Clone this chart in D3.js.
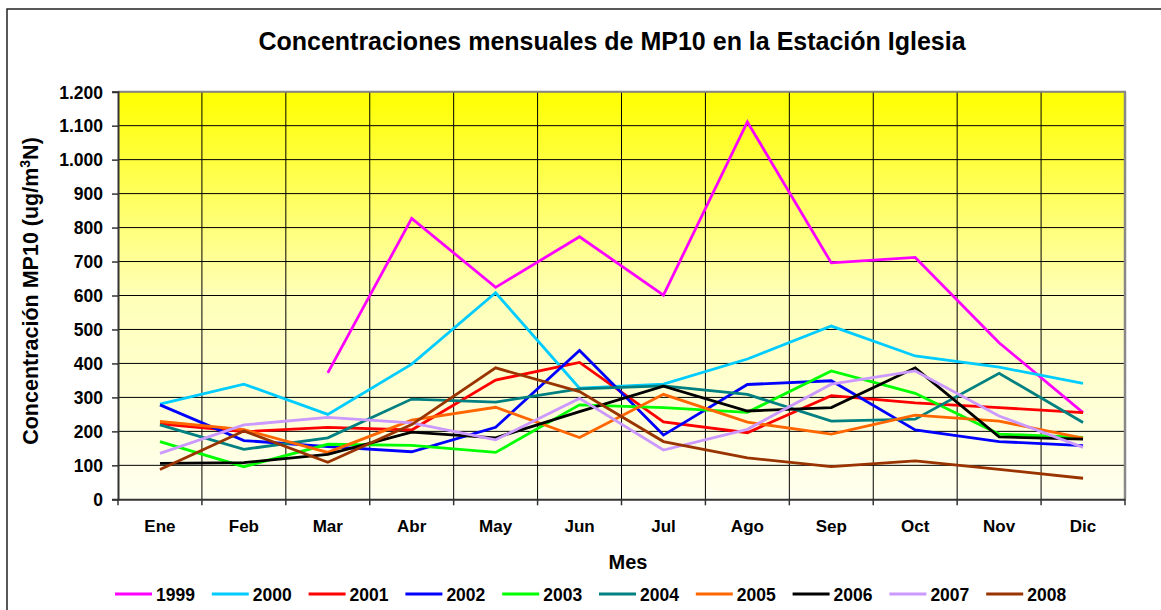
<!DOCTYPE html>
<html><head><meta charset="utf-8">
<script src="https://cdn.jsdelivr.net/npm/d3@7"></script>
<style>
html,body{margin:0;padding:0;background:#fff;}
text{font-family:Arial,"Liberation Sans",sans-serif;font-weight:bold;fill:#000;}
</style></head>
<body><svg id="c" width="1161" height="610"></svg>
<script>
const months = ["Ene","Feb","Mar","Abr","May","Jun","Jul","Ago","Sep","Oct","Nov","Dic"];
const yTicks = [0,100,200,300,400,500,600,700,800,900,1000,1100,1200];
const years = ["1999","2000","2001","2002","2003","2004","2005","2006","2007","2008"];
const colors = ["#FF00FF","#00CCFF","#FF0000","#0000FF","#00FF00","#008080","#FF6600","#000000","#CC99FF","#993300"];
const v1999 = [null,null,372,827,624,773,601,1111,696,712,461,255];
const v2000 = [280,339,250,398,608,327,339,413,510,422,389,341];
const v2001 = [222,199,212,204,351,403,228,196,305,284,270,255];
const v2002 = [278,173,155,140,212,438,189,338,349,204,170,158];
const v2003 = [170,96,162,159,138,278,270,256,378,312,192,182];
const v2004 = [219,147,181,295,286,325,334,309,230,236,371,226];
const v2005 = [229,205,138,233,271,182,309,227,192,248,230,180];
const v2006 = [106,108,132,198,181,258,333,260,270,387,184,177];
const v2007 = [135,219,241,225,175,297,145,206,339,378,245,153];
const v2008 = [88,201,109,220,387,317,170,122,96,113,88,62];
const series = [v1999,v2000,v2001,v2002,v2003,v2004,v2005,v2006,v2007,v2008];

const svg = d3.select("#c");
const L=118, R=1125, T=91.7, B=499.3;
const x = d3.scaleBand().domain(months).range([L,R]);
const y = d3.scaleLinear().domain([0,1200]).range([B,T]);

// outer border
svg.append("rect").attr("x",7).attr("y",9).attr("width",1300).attr("height",800)
  .attr("fill","none").attr("stroke","#222").attr("stroke-width",1.5);

// gradient
const defs = svg.append("defs");
const g = defs.append("linearGradient").attr("id","bg").attr("x1",0).attr("y1",0).attr("x2",0).attr("y2",1);
g.append("stop").attr("offset","0%").attr("stop-color","#FFFF00");
g.append("stop").attr("offset","50%").attr("stop-color","#FFFFB8");
g.append("stop").attr("offset","100%").attr("stop-color","#FFFFF0");
svg.append("rect").attr("x",L).attr("y",T).attr("width",R-L).attr("height",B-T).attr("fill","url(#bg)");

// gridlines
svg.append("g").selectAll("line").data(yTicks.slice(1)).join("line")
  .attr("x1",L).attr("x2",R).attr("y1",d=>y(d)).attr("y2",d=>y(d))
  .attr("stroke","#000").attr("stroke-width",1);
svg.append("g").selectAll("line").data(months.slice(1)).join("line")
  .attr("x1",d=>x(d)).attr("x2",d=>x(d)).attr("y1",T).attr("y2",B)
  .attr("stroke","#000").attr("stroke-width",1);

// plot border (top/right gray)
svg.append("line").attr("x1",L).attr("x2",R+1).attr("y1",T).attr("y2",T).attr("stroke","#888").attr("stroke-width",2);
svg.append("line").attr("x1",R).attr("x2",R).attr("y1",T).attr("y2",B).attr("stroke","#888").attr("stroke-width",2.5);

// axes
const yAxis = d3.axisLeft(y).tickValues(yTicks).tickSize(6).tickPadding(9)
  .tickFormat(d=>d3.format(",")(d).replace(/,/g,"."));
const ya = svg.append("g").attr("transform",`translate(${L},0)`).call(yAxis);
ya.select(".domain").attr("stroke","#333").attr("stroke-width",2);
ya.selectAll(".tick line").attr("stroke","#333").attr("stroke-width",1.5);
ya.selectAll(".tick text").attr("font-size",17.5).attr("font-family","Arial, 'Liberation Sans', sans-serif").attr("font-weight","bold").attr("fill","#000").attr("dy","0.36em");

const xa = svg.append("g").attr("transform",`translate(0,${B})`).call(d3.axisBottom(x).tickSize(0).tickPadding(21));
xa.select(".domain").attr("stroke","#333").attr("stroke-width",2);
xa.selectAll(".tick text").attr("font-size",17).attr("font-family","Arial, 'Liberation Sans', sans-serif").attr("font-weight","bold").attr("fill","#000");
// x boundary ticks
svg.append("g").selectAll("line").data(months.concat(["__end"])).join("line")
  .attr("x1",(d,i)=>i<12?x(d):R).attr("x2",(d,i)=>i<12?x(d):R)
  .attr("y1",B).attr("y2",B+6).attr("stroke","#333").attr("stroke-width",1.5);

// lines
const line = d3.line().defined(d=>d!=null).x((d,i)=>x(months[i])+x.bandwidth()/2).y(d=>y(d));
series.forEach((s,k)=>{
  svg.append("path").datum(s).attr("d",line).attr("fill","none")
    .attr("stroke",colors[k]).attr("stroke-width",2.8).attr("stroke-linejoin","miter");
});

// title
svg.append("text").attr("x",612).attr("y",50).attr("text-anchor","middle").attr("font-size",25)
  .text("Concentraciones mensuales de MP10 en la Estación Iglesia");
// x title
svg.append("text").attr("x",628).attr("y",569).attr("text-anchor","middle").attr("font-size",20).text("Mes");
// y title
const yt = svg.append("text").attr("transform","translate(38,291) rotate(-90)").attr("text-anchor","middle").attr("font-size",21.5);
yt.append("tspan").text("Concentración MP10 (ug/m");
yt.append("tspan").attr("font-size",14).attr("dy",-8).text("3");
yt.append("tspan").attr("dy",8).text("N)");

// legend
const lg = svg.append("g");
years.forEach((yr,i)=>{
  const lx = 115 + i*96.8;
  lg.append("line").attr("x1",lx).attr("x2",lx+37).attr("y1",594).attr("y2",594)
    .attr("stroke",colors[i]).attr("stroke-width",3);
  lg.append("text").attr("x",lx+41).attr("y",600.5).attr("font-size",17.5).text(yr);
});
</script></body></html>
